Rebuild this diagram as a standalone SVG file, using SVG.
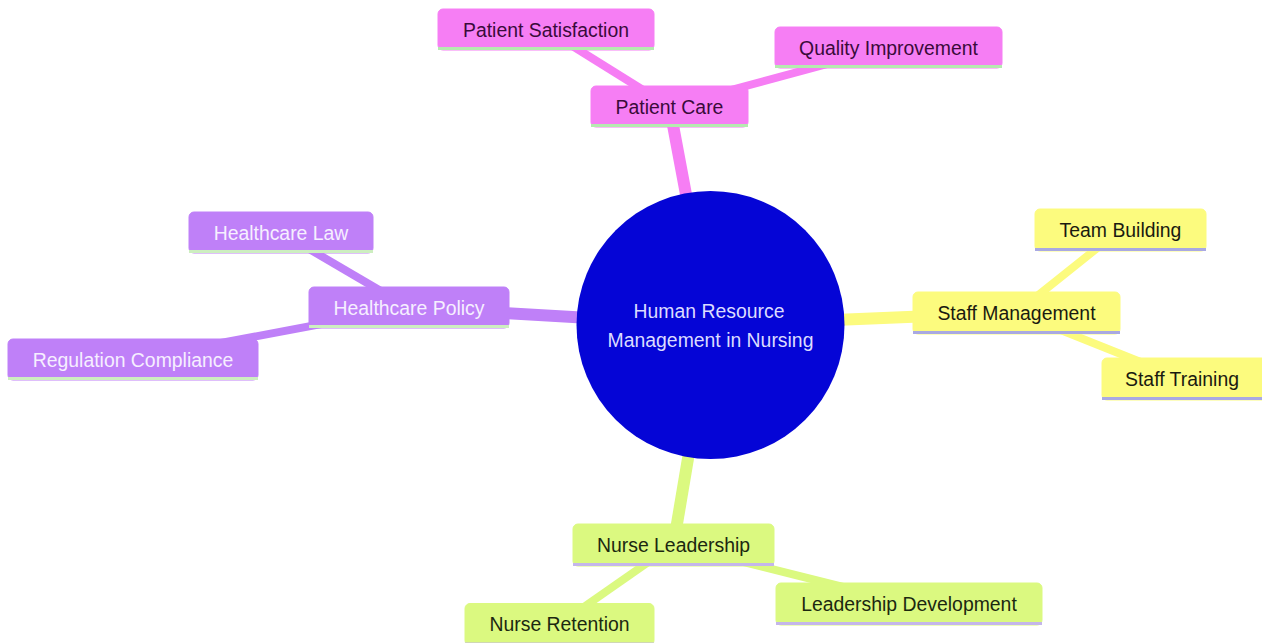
<svg xmlns="http://www.w3.org/2000/svg" width="1262" height="643" viewBox="0 0 1262 643">
<style>
text{font-family:"Liberation Sans",Arial,sans-serif;font-size:19.4px;text-anchor:middle}
.e0{fill:none;stroke-width:12}
.e1{fill:none;stroke-width:8}
.pk{fill:#f67ef4;stroke:#f67ef4}
.pu{fill:#bf80f8;stroke:#bf80f8}
.ye{fill:#fcfb7e;stroke:#fcfb7e}
.gr{fill:#dbf980;stroke:#dbf980}
.edge-pk{stroke:#f67ef4}
.edge-pu{stroke:#bf80f8}
.edge-ye{stroke:#fcfb7e}
.edge-gr{stroke:#dbf980}
rect{stroke:none}
.lpk{stroke:#b5eab0;stroke-width:3}
.lpu{stroke:#cdeec0;stroke-width:3}
.lye{stroke:#a9a9e2;stroke-width:3}
.lgr{stroke:#c4b6ea;stroke-width:3}
.tpk{fill:#3a0b3a}
.tpu{fill:#f6efff}
.tye{fill:#1a1a10}
.tgr{fill:#1c2810}
</style>
<g id="connectors">
<line class="e0 edge-pk" x1="710.5" y1="325" x2="669.5" y2="106.5"/>
<line class="e1 edge-pk" x1="669.5" y1="106.5" x2="546" y2="29.5"/>
<line class="e1 edge-pk" x1="669.5" y1="106.5" x2="888.5" y2="47.5"/>
<line class="e0 edge-pu" x1="710.5" y1="325" x2="409" y2="307.5"/>
<line class="e1 edge-pu" x1="409" y1="307.5" x2="281" y2="232.5"/>
<line class="e1 edge-pu" x1="409" y1="307.5" x2="133" y2="359.5"/>
<line class="e0 edge-ye" x1="710.5" y1="325" x2="1016.5" y2="312.5"/>
<line class="e1 edge-ye" x1="1016.5" y1="312.5" x2="1120.5" y2="229.5"/>
<line class="e1 edge-ye" x1="1016.5" y1="312.5" x2="1182" y2="378.5"/>
<line class="e0 edge-gr" x1="710.5" y1="325" x2="673.5" y2="544.5"/>
<line class="e1 edge-gr" x1="673.5" y1="544.5" x2="559.5" y2="624"/>
<line class="e1 edge-gr" x1="673.5" y1="544.5" x2="909" y2="603.5"/>
</g>
<g id="root">
<circle cx="710.5" cy="325" r="134" fill="#0505d6"/>
<text x="709" y="317.5" fill="#dcdcff">Human Resource</text>
<text x="710.5" y="346.8" fill="#dcdcff">Management in Nursing</text>
</g>
<g id="patient-care">
<rect class="pk" x="591" y="86" width="157" height="41" rx="5"/>
<line class="lpk" x1="591" y1="125.5" x2="748" y2="125.5"/>
<text class="tpk" x="669.5" y="113.5">Patient Care</text>
</g>
<g id="patient-satisfaction">
<rect class="pk" x="438" y="9" width="216" height="41" rx="5"/>
<line class="lpk" x1="438" y1="48.5" x2="654" y2="48.5"/>
<text class="tpk" x="546" y="36.5">Patient Satisfaction</text>
</g>
<g id="quality-improvement">
<rect class="pk" x="775" y="27" width="227" height="41" rx="5"/>
<line class="lpk" x1="775" y1="66.5" x2="1002" y2="66.5"/>
<text class="tpk" x="888.5" y="54.5">Quality Improvement</text>
</g>
<g id="healthcare-policy">
<rect class="pu" x="309" y="287" width="200" height="41" rx="5"/>
<line class="lpu" x1="309" y1="326.5" x2="509" y2="326.5"/>
<text class="tpu" x="409" y="314.5">Healthcare Policy</text>
</g>
<g id="healthcare-law">
<rect class="pu" x="189" y="212" width="184" height="41" rx="5"/>
<line class="lpu" x1="189" y1="251.5" x2="373" y2="251.5"/>
<text class="tpu" x="281" y="239.5">Healthcare Law</text>
</g>
<g id="regulation-compliance">
<rect class="pu" x="8" y="339" width="250" height="41" rx="5"/>
<line class="lpu" x1="8" y1="378.5" x2="258" y2="378.5"/>
<text class="tpu" x="133" y="366.5">Regulation Compliance</text>
</g>
<g id="staff-management">
<rect class="ye" x="913" y="292" width="207" height="42" rx="5"/>
<line class="lye" x1="913" y1="332.5" x2="1120" y2="332.5"/>
<text class="tye" x="1016.5" y="320">Staff Management</text>
</g>
<g id="team-building">
<rect class="ye" x="1035" y="209" width="171" height="42" rx="5"/>
<line class="lye" x1="1035" y1="249.5" x2="1206" y2="249.5"/>
<text class="tye" x="1120.5" y="237">Team Building</text>
</g>
<g id="staff-training">
<rect class="ye" x="1102" y="358" width="165" height="42" rx="5"/>
<line class="lye" x1="1102" y1="398.5" x2="1262" y2="398.5"/>
<text class="tye" x="1182" y="386">Staff Training</text>
</g>
<g id="nurse-leadership">
<rect class="gr" x="573" y="524" width="201" height="42" rx="5"/>
<line class="lgr" x1="573" y1="564.5" x2="774" y2="564.5"/>
<text class="tgr" x="673.5" y="551.7">Nurse Leadership</text>
</g>
<g id="nurse-retention">
<rect class="gr" x="465" y="603.5" width="189" height="42" rx="5"/>
<line class="lgr" x1="465" y1="644" x2="654" y2="644"/>
<text class="tgr" x="559.5" y="631">Nurse Retention</text>
</g>
<g id="leadership-development">
<rect class="gr" x="776" y="583" width="266" height="42" rx="5"/>
<line class="lgr" x1="776" y1="623.5" x2="1042" y2="623.5"/>
<text class="tgr" x="909" y="610.7">Leadership Development</text>
</g>
</svg>
